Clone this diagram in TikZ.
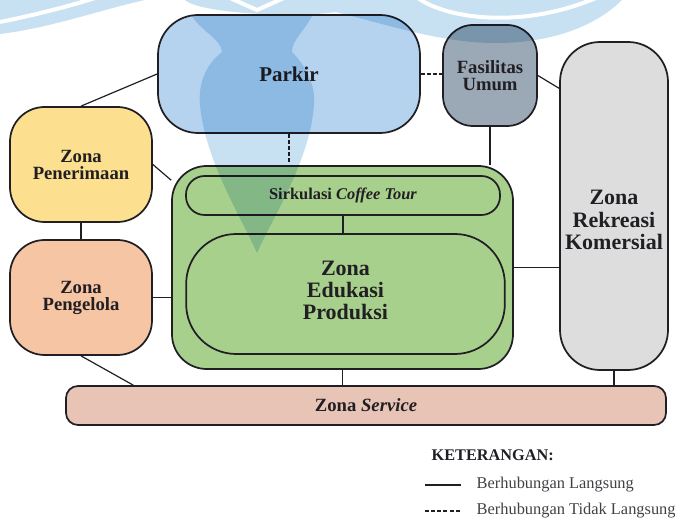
\documentclass[tikz,border=0pt]{standalone}
\usepackage{fontspec}
\setmainfont{Liberation Serif}
\usetikzlibrary{backgrounds}
\definecolor{ink}{RGB}{33,30,36}
\definecolor{parkirblue}{RGB}{181,211,239}
\definecolor{fasgrey}{RGB}{154,169,181}
\definecolor{rekgrey}{RGB}{221,221,221}
\definecolor{terimayellow}{RGB}{253,224,143}
\definecolor{kelolapeach}{RGB}{246,198,164}
\definecolor{edugreen}{RGB}{168,208,141}
\definecolor{servicepink}{RGB}{232,196,182}
\definecolor{watermark}{RGB}{200,225,242}
\newcommand{\zfont}[2]{\fontsize{#1}{#2}\selectfont\bfseries}

\tikzset{% one style for the zones, with size and corner radius as arguments
   zone/.style={draw=ink, line width=1.3pt, text=ink, align=center, inner sep=0pt},
   zonebox/.style args={#1,#2,#3}{zone, minimum width=#1, minimum height=#2,
                                  rounded corners=#3},
   % and the two kinds of links
   direct/.style={draw=ink, line width=0.9pt},
   indirect/.style={direct, dash pattern=on 3pt off 1.6pt}
}

\begin{document}
\begin{tikzpicture}[x=0.75pt, y=-0.75pt]
   \useasboundingbox (0,0) rectangle (675,523);
   \node[zonebox={196.5pt,88.5pt,30pt}, fill=parkirblue, font=\zfont{15.75}{17}]
        (parkir) at (289,74) {Parkir};
   \node[zonebox={70.5pt,75.75pt,22.5pt}, fill=fasgrey, font=\zfont{14}{12.75}]
        (fasilitas) at (490,75.5) {Fasilitas\\Umum};
   \node[zonebox={81pt,246pt,30pt}, fill=rekgrey, font=\zfont{16.5}{16.9}]
        (rekreasi) at (614,206) {\rule{0pt}{32pt}Zona\\Rekreasi\\Komersial};
   \node[zonebox={106.5pt,86.25pt,26pt}, fill=terimayellow, font=\zfont{14}{12.75}]
        (penerimaan) at (81,164.5) {Zona\\Penerimaan};
   \node[zonebox={106.5pt,86.25pt,26pt}, fill=kelolapeach, font=\zfont{14}{12.75}]
        (pengelola) at (81,297.5) {Zona\\Pengelola};
   \node[zonebox={255.75pt,152.25pt,26pt}, fill=edugreen] (inti) at (342.5,267.5) {};
   \node[zonebox={235.5pt,29.25pt,14pt}, fill=edugreen, font=\zfont{12.3}{14}]
        (sirkulasi) at (343,195.5) {Sirkulasi \textit{Coffee Tour}};
   \node[zonebox={239pt,90pt,37.5pt}, fill=edugreen, font=\zfont{16.5}{16.5}]
        (edukasi) at (345.5,294) {Zona\\Edukasi\\Produksi\rule[-6pt]{0pt}{0pt}};
   \node[zonebox={450pt,29.25pt,9pt}, fill=servicepink, font=\zfont{14}{15}]
        (service) at (366,405.5) {Zona \textit{Service}};

   \begin{pgfonlayer}{background}
     \draw[direct] (penerimaan.north) -- (parkir.west);
     \draw[indirect] (parkir.east) -- (parkir.east -| fasilitas.west);
     \draw[indirect] (parkir.south) -- (parkir.south |- inti.north);
     \draw[direct] (fasilitas.south) -- (fasilitas.south |- inti.north);
     \draw[direct] (fasilitas.east) -- (rekreasi.115);
     \draw[direct] (penerimaan.east) -- (inti.153);
     \draw[direct] (penerimaan.south) -- (pengelola.north);
     \draw[direct] (pengelola.east) -- (pengelola.east -| inti.west);
     \draw[direct] (pengelola.south) -- (service.175.8);
     \draw[direct] (inti.east) -- (inti.east -| rekreasi.west);
     \draw[direct] (inti.south) -- (inti.south |- service.north);
     \draw[direct] (rekreasi.south) -- (rekreasi.south |- service.north);
   \end{pgfonlayer}
   \draw[direct] (sirkulasi.south) -- (sirkulasi.south |- edukasi.north);

   % legend
   \node[anchor=west, text=ink, font=\zfont{12.2}{14}] (ket) at (427,455) {KETERANGAN:};
   \coordinate (lgA1) at (425,485);  \coordinate (lgA2) at (461,485);
   \coordinate (lgB1) at (425,511);  \coordinate (lgB2) at (461,511);
   \draw[direct] (lgA1) -- (lgA2);
   \draw[indirect] (lgB1) -- (lgB2);
   \node[anchor=west, text=ink!85, font=\fontsize{12.3}{14}\selectfont]
        (langsung) at (472,485) {Berhubungan Langsung};
   \node[anchor=west, text=ink!85, font=\fontsize{12.3}{14}\selectfont]
        (tidak) at (472,511) {Berhubungan Tidak Langsung};

   % faint logo in the back
   \begin{scope}[blend mode=multiply]
     \fill[watermark] (0,0) -- (0,34) .. controls (50,28) and (100,10) .. (145,0) -- cycle;
     \fill[watermark] (185,0) .. controls (200,14) and (300,18) .. (335,12)
          .. controls (380,22) and (440,44) .. (500,43)
          .. controls (560,42) and (600,22) .. (622,0) -- cycle;
     \fill[watermark] (192,16) .. controls (200,30) and (222,40) .. (222,52)
          .. controls (205,65) and (198,85) .. (200,105)
          .. controls (205,160) and (240,215) .. (257,253)
          .. controls (274,215) and (310,160) .. (314,105)
          .. controls (316,85) and (305,65) .. (292,52)
          .. controls (292,40) and (305,30) .. (312,16) -- cycle;
   \end{scope}
   \draw[white, line width=3pt] (0,22) .. controls (35,15) and (70,6) .. (95,-2);
   \draw[white, line width=3pt] (230,-2) -- (257,10) -- (284,-2);
   \draw[white, line width=3pt] (418,-2) .. controls (445,18) and (520,30) .. (596,-2);
\end{tikzpicture}
\end{document}
